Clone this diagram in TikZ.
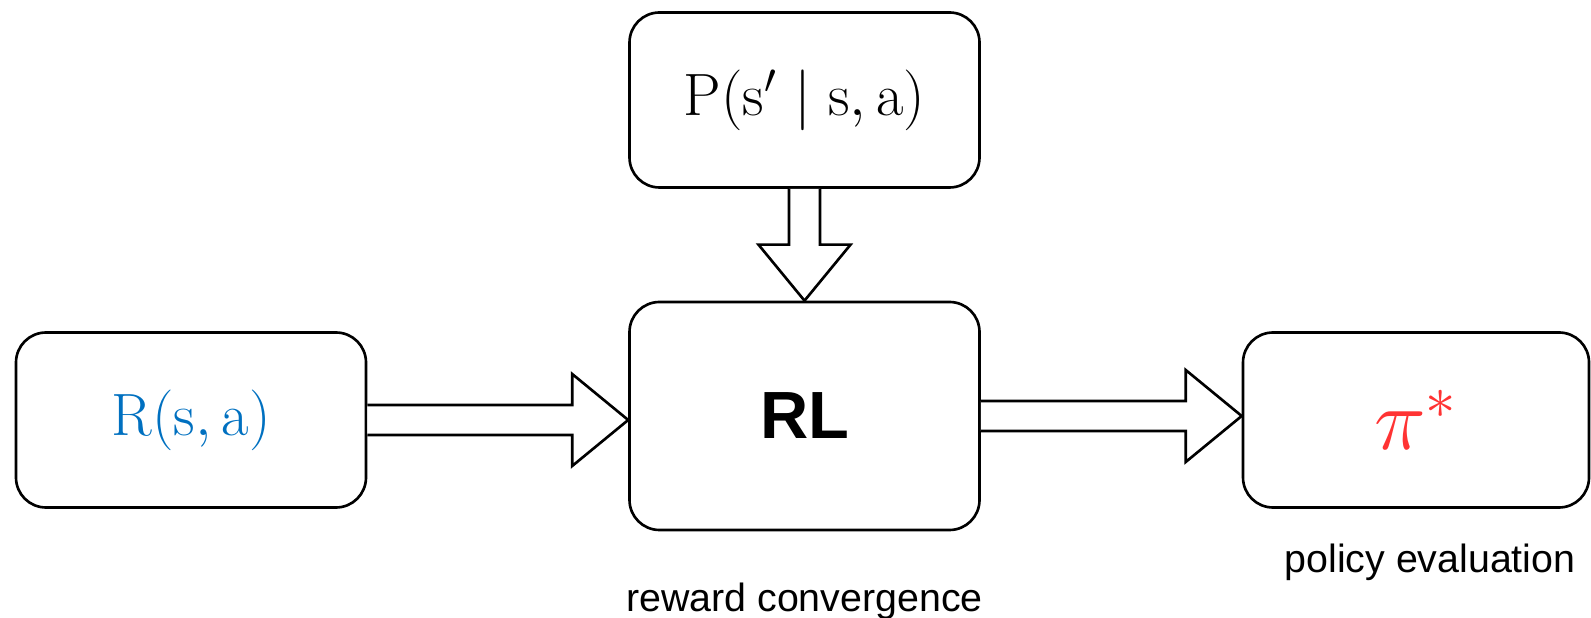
\documentclass[tikz,border=0pt]{standalone}
\usepackage{fontspec}
\setsansfont{Liberation Sans}
\usetikzlibrary{calc}
\usetikzlibrary{positioning}
\usepackage{xcolor}
\definecolor{rewblue}{HTML}{0070C0}
\definecolor{polred}{HTML}{FF3333}

\begin{document}
\begin{tikzpicture}[
    box/.style={draw, line width=0.75pt, rounded corners=0.3cm, minimum width=3.5cm, minimum height=1.75cm, font=\fontsize{17}{20}\selectfont},
    caption/.style={font=\sffamily\fontsize{11.2}{13}\selectfont},
    blockarrow/.style={draw, line width=0.75pt, fill=white, line join=miter}
  ]
        \useasboundingbox (0,0) rectangle (15.91,6.18);

        % Boxes
        \node[box] (P) at (8.045,5.18) {$\mathrm{P(s' \mid s, a)}$};
        \node[box, minimum height=2.28cm] (RL) at (8.045,2.02) {\sffamily\bfseries\fontsize{19}{22}\selectfont RL};
        \node[box, text=rewblue] (R) at (1.91,1.98) {$\mathrm{R(s, a)}$};
        \node[box, text=polred, minimum width=3.46cm, font=\fontsize{23}{26}\selectfont] (Pi) at (14.16,1.98) {$\pi^{*}$};

        % Captions
        \node[caption, below=0.39cm of RL] (conv) {reward convergence};
        \node[caption, below=0.23cm of Pi, xshift=0.14cm] (eval) {policy evaluation};

        % Horizontal arrows
        \foreach \a/\b in {R/RL, RL/Pi}
        {
          \coordinate (T\a) at (\b.west |- \a.east);
          \draw[blockarrow] ($(\a.east)+(0,0.15)$) -- ($(T\a)+(-0.56,0.15)$)
            -- ($(T\a)+(-0.56,0.46)$) -- (T\a) -- ($(T\a)+(-0.56,-0.46)$)
            -- ($(T\a)+(-0.56,-0.15)$) -- ($(\a.east)+(0,-0.15)$);
        }

        % Vertical arrow
        \draw[blockarrow] ($(P.south)+(-0.155,0)$) -- ($(RL.north)+(-0.155,0.56)$)
          -- ($(RL.north)+(-0.46,0.56)$) -- (RL.north) -- ($(RL.north)+(0.46,0.56)$)
          -- ($(RL.north)+(0.155,0.56)$) -- ($(P.south)+(0.155,0)$);
    \end{tikzpicture}
\end{document}
